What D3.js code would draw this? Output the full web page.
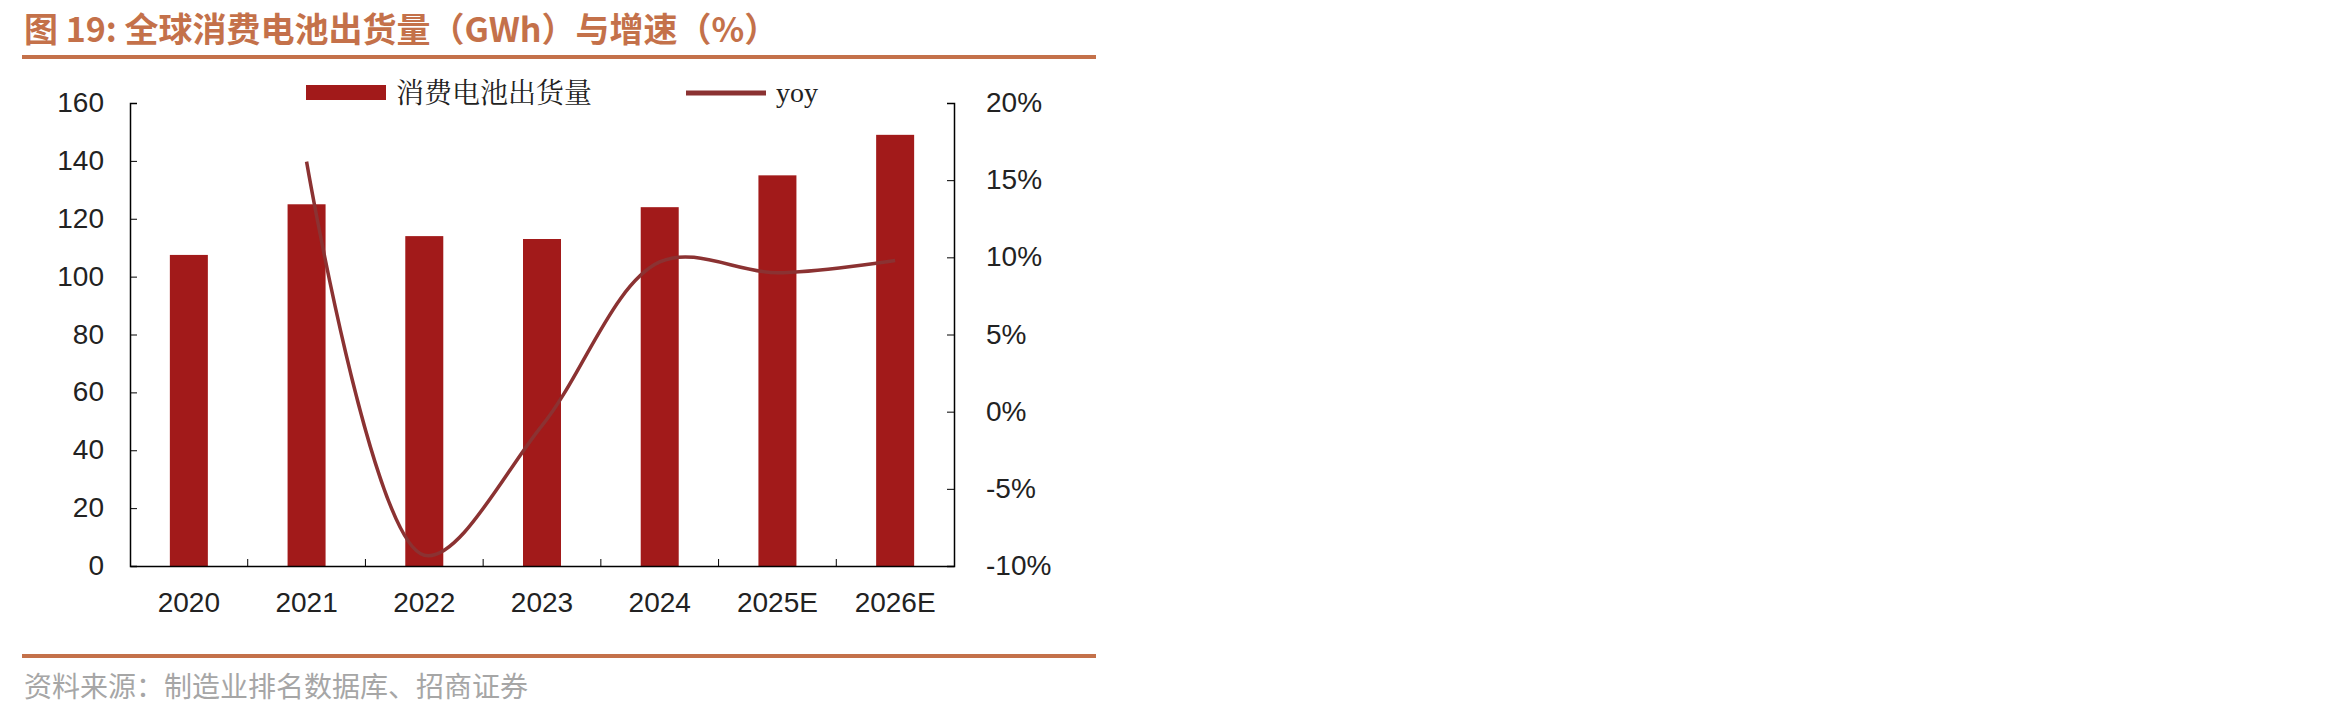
<!DOCTYPE html>
<html><head><meta charset="utf-8">
<script src="https://cdn.jsdelivr.net/npm/d3@7"></script>
<style>body{margin:0;background:#fff}</style>
</head><body>
<svg id="c" width="2351" height="716"></svg>
<script>
const years = ["2020","2021","2022","2023","2024","2025E","2026E"];
const shipments = [107.5, 125, 114, 113, 124, 135, 149];
const yoy = [null, 16.2, -9.3, -0.9, 9.7, 9.0, 9.8];
const leftTicks = [0,20,40,60,80,100,120,140,160];
const rightTicks = [-10,-5,0,5,10,15,20];

const svg = d3.select("#c");
const L = 130, R = 954, T = 103, B = 566;
const sans = "'Liberation Sans', Arial, sans-serif";
const cjk = "'Noto Sans CJK SC', sans-serif";

// title + rules
svg.append("text").attr("x",24).attr("y",42).attr("fill","#C4714A")
  .attr("font-family",cjk).attr("font-weight","bold").attr("font-size",34)
  .text("图 19:  全球消费电池出货量（GWh）与增速（%）");
svg.append("line").attr("x1",22).attr("x2",1096).attr("y1",57).attr("y2",57)
  .attr("stroke","#C4714A").attr("stroke-width",4);
svg.append("line").attr("x1",22).attr("x2",1096).attr("y1",656).attr("y2",656)
  .attr("stroke","#C4714A").attr("stroke-width",4);
svg.append("text").attr("x",24).attr("y",697).attr("fill","#a6a6a6")
  .attr("font-family",cjk).attr("font-size",28).text("资料来源：制造业排名数据库、招商证券");

const x = d3.scaleBand().domain(years).range([L,R]);
const y = d3.scaleLinear().domain([0,160]).range([B,T]);
const y2 = d3.scaleLinear().domain([-10,20]).range([B,T]);

svg.selectAll("rect.bar").data(years).join("rect").attr("class","bar")
  .attr("x",d=>x(d)+x.bandwidth()/2-19).attr("width",38)
  .attr("y",(d,i)=>y(shipments[i])).attr("height",(d,i)=>B-y(shipments[i]))
  .attr("fill","#A21A1A");

const line = d3.line().defined(d=>d.v!=null)
  .x(d=>x(d.k)+x.bandwidth()/2).y(d=>y2(d.v)).curve(d3.curveCatmullRom.alpha(0.5));
svg.append("path").datum(years.map((k,i)=>({k,v:yoy[i]})))
  .attr("d",line).attr("fill","none").attr("stroke","#8B3232").attr("stroke-width",3.5);

// axes
const la = svg.append("g").attr("transform",`translate(${L},0)`)
  .call(d3.axisRight(y).tickValues(leftTicks).tickSize(7).tickFormat(""));
const ra = svg.append("g").attr("transform",`translate(${R},0)`)
  .call(d3.axisLeft(y2).tickValues(rightTicks).tickSize(7).tickFormat(""));
const xa = svg.append("g").attr("transform",`translate(0,${B})`)
  .call(d3.axisTop(x).tickSize(0).tickFormat(""));
[la,ra,xa].forEach(g=>{g.select(".domain").attr("stroke","#000").attr("stroke-width",1.5);
  g.selectAll(".tick line").attr("stroke","#000");});
svg.selectAll("line.xt").data(years.slice(1)).join("line").attr("class","xt")
  .attr("x1",d=>x(d)).attr("x2",d=>x(d)).attr("y1",B).attr("y2",B-7).attr("stroke","#000");

svg.selectAll("text.lt").data(leftTicks).join("text").attr("class","lt")
  .attr("x",L-26).attr("y",d=>y(d)+9).attr("text-anchor","end")
  .attr("font-family",sans).attr("font-size",28).attr("fill","#222").text(d=>d);
svg.selectAll("text.rt").data(rightTicks).join("text").attr("class","rt")
  .attr("x",R+32).attr("y",d=>y2(d)+9)
  .attr("font-family",sans).attr("font-size",28).attr("fill","#222").text(d=>d+"%");
svg.selectAll("text.xl").data(years).join("text").attr("class","xl")
  .attr("x",d=>x(d)+x.bandwidth()/2).attr("y",612).attr("text-anchor","middle")
  .attr("font-family",sans).attr("font-size",28).attr("fill","#222").text(d=>d);

// legend
svg.append("rect").attr("x",306).attr("y",85).attr("width",80).attr("height",15).attr("fill","#A21A1A");
svg.append("text").attr("x",396).attr("y",103).attr("font-family","'Noto Serif CJK SC', "+cjk)
  .attr("font-size",28).attr("fill","#222").text("消费电池出货量");
svg.append("line").attr("x1",686).attr("x2",766).attr("y1",93).attr("y2",93)
  .attr("stroke","#8B3232").attr("stroke-width",5);
svg.append("text").attr("x",776).attr("y",102).attr("font-family","'Liberation Serif', serif")
  .attr("font-size",28).attr("fill","#222").text("yoy");
</script>
</body></html>
